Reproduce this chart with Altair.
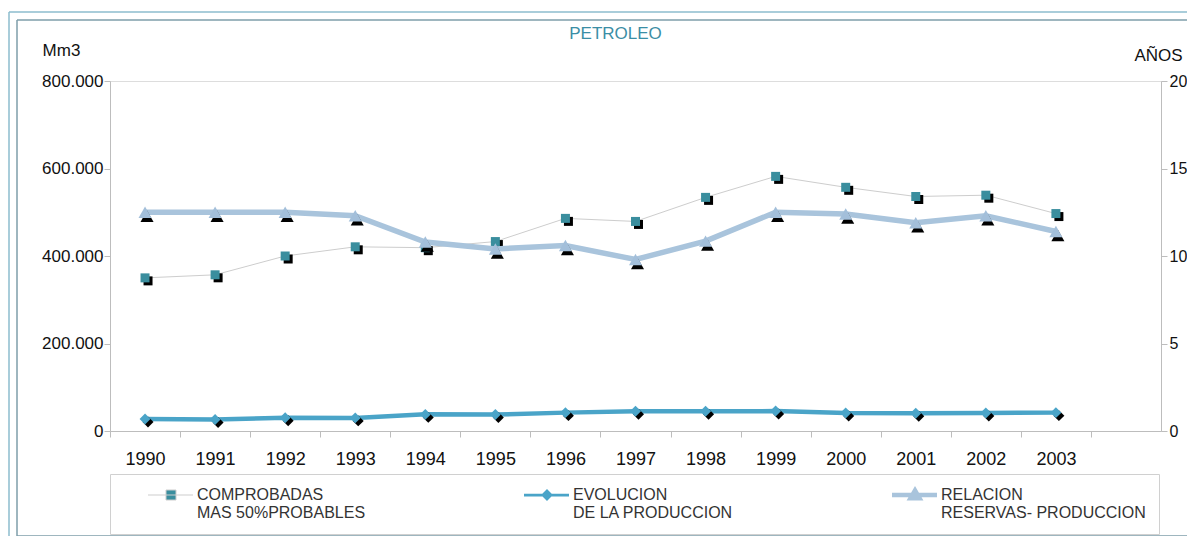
import altair as alt
import pandas as pd

FONT = "Liberation Sans"

# ---------------- data ----------------
years = [1990, 1991, 1992, 1993, 1994, 1995, 1996, 1997, 1998, 1999, 2000, 2001, 2002, 2003]
x_domain = [str(y) for y in years] + ["2004"]
comprobadas = [350000, 357000, 400000, 421000, 419000, 433000, 486000,
               479000, 534000, 582000, 557000, 536000, 539000, 497000]
produccion = [27500, 26500, 30500, 30000, 38000, 37500, 42000,
              45000, 45000, 45500, 41000, 40500, 41000, 42000]
relacion = [12.5, 12.5, 12.5, 12.3, 10.8, 10.4, 10.6,
            9.8, 10.85, 12.5, 12.4, 11.9, 12.3, 11.4]
series = ["COMPROBADAS|MAS 50%PROBABLES",
          "EVOLUCION|DE LA PRODUCCION",
          "RELACION|RESERVAS- PRODUCCION"]
left_ticks = [0, 200000, 400000, 600000, 800000]
right_ticks = [0, 5, 10, 15, 20]

df = pd.DataFrame({
    "anio": [str(y) for y in years],
    "comprobadas": comprobadas,
    "produccion": produccion,
    "relacion": relacion,
})
df_leg = pd.DataFrame({"serie": series})
df_one = pd.DataFrame({"k": [0]})

# ---------------- styles ----------------
C_SQ = "#3A8E9E"
C_GRAY = "#cdcdcd"
C_PROD = "#4AA4C8"
C_REL = "#A9C4DC"
C_TRI = "#A3BFDA"
C_AXIS = "#bdbdbd"
C_TXT = "#111111"

W, H = 1051, 350
step = W / len(x_domain)

x_axis = alt.Axis(
    labelExpr="datum.value == '2004' ? '' : datum.label",
    tickOffset=-step / 2, labelOffset=step / 2,
    tickSize=6, tickColor=C_AXIS, domainColor=C_AXIS,
    labelFont=FONT, labelFontSize=18, labelColor=C_TXT, labelPadding=13,
    labelAngle=0, grid=False, title=None,
)
x_enc = alt.X("anio:O", scale=alt.Scale(type="point", domain=x_domain, padding=0.5), axis=x_axis)

yl_axis = alt.Axis(
    values=left_ticks,
    labelExpr="replace(format(datum.value, ','), ',', '.')",
    title="Mm3", titleAngle=0, titleX=-49, titleY=-31, titleAlign="center",
    titleBaseline="middle", titleFont=FONT, titleFontSize=17, titleFontWeight="normal",
    titleColor=C_TXT, labelFont=FONT, labelFontSize=17, labelColor=C_TXT,
    labelPadding=1, tickSize=6, tickColor=C_AXIS, domainColor=C_AXIS, grid=False,
)
yl_scale = alt.Scale(domain=[0, 800000])

yr_axis = alt.Axis(
    orient="right", values=right_ticks,
    title="AÑOS", titleAngle=0, titleX=-3, titleY=-26, titleAlign="center",
    titleBaseline="middle", titleFont=FONT, titleFontSize=17, titleFontWeight="normal",
    titleColor=C_TXT, labelFont=FONT, labelFontSize=16, labelColor=C_TXT,
    labelPadding=2, tickSize=6, tickColor=C_AXIS, domainColor=C_AXIS, grid=False,
)
yr_scale = alt.Scale(domain=[0, 20])

base = alt.Chart(df)


def yl(field):
    return alt.Y(f"{field}:Q", scale=yl_scale, axis=yl_axis)


def yr(field):
    return alt.Y(f"{field}:Q", scale=yr_scale, axis=yr_axis)


# ---------- legend (built from scales, symbols drawn as line + marker) ----------
def sym_path(kind):
    u = 5.0  # px per unit with symbolSize=100
    cy = 0.0
    x0, x1, xm = 17 / u, 62 / u, 40 / u
    line = f"M{x0:.2f},{cy:.2f}H{x1:.2f}"
    if kind == "square":
        h = 5.0 / u
        mk = f"M{xm-h:.2f},{cy-h:.2f}H{xm+h:.2f}V{cy+h:.2f}H{xm-h:.2f}Z"
    elif kind == "diamond":
        h = 4.0 / u
        mk = f"M{xm:.2f},{cy-h:.2f}L{xm+h:.2f},{cy:.2f}L{xm:.2f},{cy+h:.2f}L{xm-h:.2f},{cy:.2f}Z"
    else:
        h = 4.5 / u
        mk = f"M{xm:.2f},{cy-h:.2f}L{xm+h:.2f},{cy+h*0.7:.2f}L{xm-h:.2f},{cy+h*0.7:.2f}Z"
    return line + mk


legend_def = alt.Legend(
    orient="none", legendX=0, legendY=393, direction="horizontal", columns=3,
    columnPadding=133, symbolSize=100, labelOffset=58, labelFont=FONT,
    labelFontSize=16, labelColor="#333333", labelLimit=400, title=None,
    padding=13, strokeColor="#d0d0d0", labelExpr="split(datum.label, '|')",
    symbolOpacity=1,
)
legend_layer = alt.Chart(df_leg).transform_filter("datum.serie == 'ninguna'").mark_point(
    opacity=1, filled=False
).encode(
    fill=alt.Fill("serie:N", scale=alt.Scale(domain=series, range=[C_SQ, C_PROD, C_TRI]), legend=legend_def),
    stroke=alt.Stroke("serie:N", scale=alt.Scale(domain=series, range=[C_GRAY, C_PROD, C_REL]), legend=legend_def),
    shape=alt.Shape("serie:N", scale=alt.Scale(domain=series, range=[sym_path("square"), sym_path("diamond"), sym_path("triangle")]), legend=legend_def),
    strokeWidth=alt.StrokeWidth("serie:N", scale=alt.Scale(domain=series, range=[1, 4.5, 5.5]), legend=legend_def),
)

# ---------------- left axis group ----------------
c_line = base.mark_line(color=C_GRAY, strokeWidth=1).encode(x=x_enc, y=yl("comprobadas"))
c_shadow = base.mark_point(shape="square", filled=True, color="black", size=81, opacity=1,
                           xOffset=3, yOffset=3).encode(x=x_enc, y=yl("comprobadas"))
c_mark = base.mark_point(shape="square", filled=True, color=C_SQ, size=81, opacity=1).encode(
    x=x_enc, y=yl("comprobadas"))

p_line = base.mark_line(color=C_PROD, strokeWidth=4.5).encode(x=x_enc, y=yl("produccion"))
p_shadow = base.mark_point(shape="diamond", filled=True, color="black", size=120, opacity=1,
                           xOffset=3, yOffset=3).encode(x=x_enc, y=yl("produccion"))
p_mark = base.mark_point(shape="diamond", filled=True, color=C_PROD, size=120, opacity=1).encode(
    x=x_enc, y=yl("produccion"))

left = alt.layer(c_line, c_shadow, c_mark, p_line, p_shadow, p_mark, legend_layer)

# ---------------- right axis group ----------------
r_line = base.mark_line(color=C_REL, strokeWidth=5.5).encode(x=x_enc, y=yr("relacion"))
r_shadow = base.mark_point(shape="triangle-up", filled=True, color="black", size=170, opacity=1,
                           xOffset=2, yOffset=4).encode(x=x_enc, y=yr("relacion"))
r_mark = base.mark_point(shape="triangle-up", filled=True, color=C_TRI, size=170, opacity=1).encode(
    x=x_enc, y=yr("relacion"))
right = alt.layer(r_line, r_shadow, r_mark)

# ---------------- frame (decoration; top, left and bottom edges only) ----------------
FR_OUT = "#8DBDCE"
FR_IN = "#7E9EAA"
X_END = 1100
frame = alt.layer(
    alt.Chart(df_one).mark_rule(color=FR_OUT, strokeWidth=1.5).encode(
        x=alt.value(-101), x2=alt.value(X_END), y=alt.value(-69), y2=alt.value(-69)),
    alt.Chart(df_one).mark_rule(color=FR_OUT, strokeWidth=1.5).encode(
        x=alt.value(-101), x2=alt.value(-101), y=alt.value(-69), y2=alt.value(500)),
    alt.Chart(df_one).mark_rule(color=FR_IN, strokeWidth=1.5).encode(
        x=alt.value(-93), x2=alt.value(X_END), y=alt.value(-61), y2=alt.value(-61)),
    alt.Chart(df_one).mark_rule(color=FR_IN, strokeWidth=1.5).encode(
        x=alt.value(-93), x2=alt.value(-93), y=alt.value(-61), y2=alt.value(455)),
    alt.Chart(df_one).mark_rule(color=FR_IN, strokeWidth=1.5).encode(
        x=alt.value(-93), x2=alt.value(X_END), y=alt.value(455), y2=alt.value(455)),
)

chart = alt.layer(frame, left, right).resolve_scale(y="independent").properties(
    width=W, height=H,
    title=alt.TitleParams("PETROLEO", color="#3B8EA5", fontSize=17, fontWeight="normal",
                          font=FONT, anchor="middle", dx=-20, dy=36),
    autosize=alt.AutoSizeParams(type="none"),
    padding={"left": 102, "top": 73, "right": 26, "bottom": 105},
).configure_view(stroke="transparent").configure(background="white")

chart.save("out.html", embed_options={"renderer": "svg", "actions": False})
